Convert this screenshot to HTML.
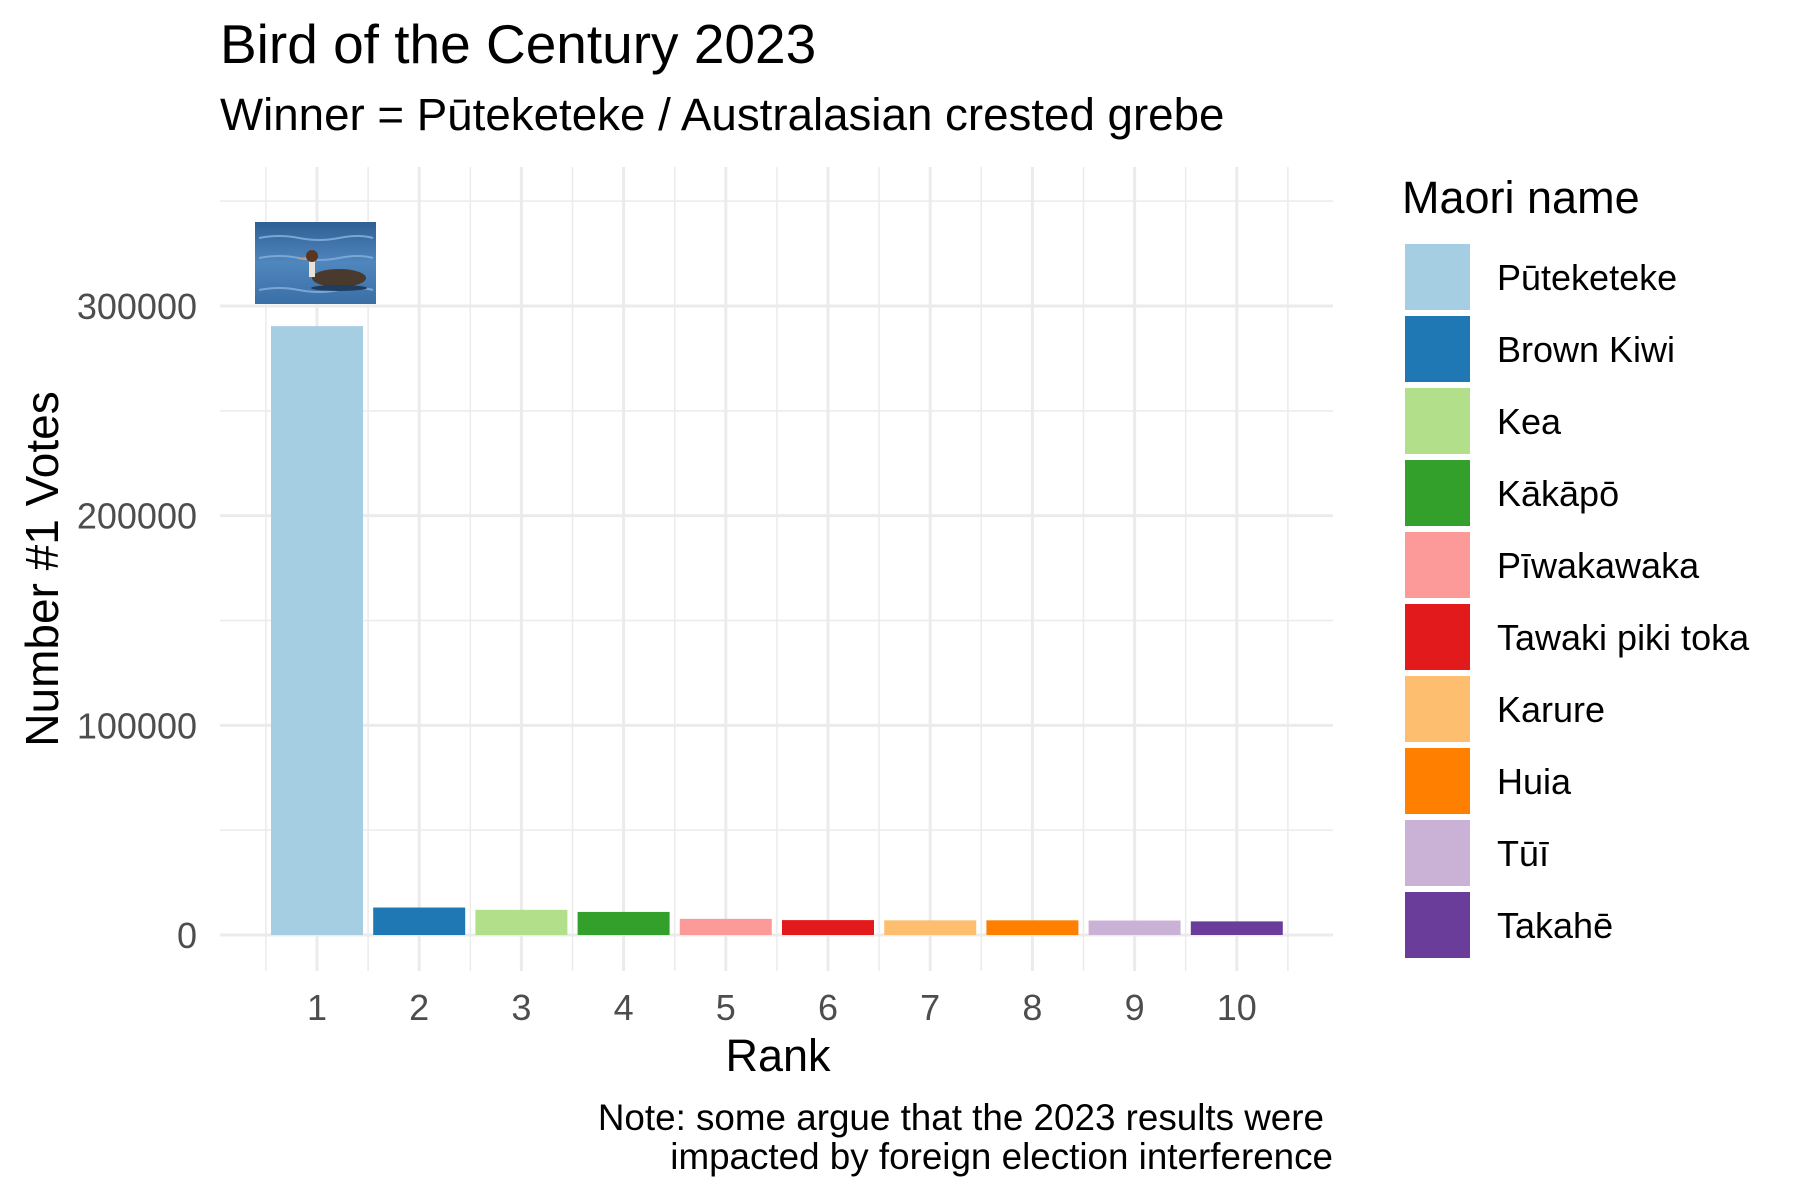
<!DOCTYPE html>
<html><head><meta charset="utf-8"><style>
body{margin:0;background:#fff;}
svg{display:block;font-family:"Liberation Sans",sans-serif;}
</style></head><body>
<svg id="chart" width="1800" height="1200" viewBox="0 0 1800 1200">
<text x="220" y="63" font-size="55" fill="#000">Bird of the Century 2023</text>
<text x="220" y="130" font-size="45.7" fill="#000">Winner = Pūteketeke / Australasian crested grebe</text>
<g id="grid"></g>
<g id="bars"></g>
<g id="axes"></g>
<g>
<defs><linearGradient id="water" x1="0" y1="0" x2="0" y2="1"><stop offset="0" stop-color="#2f5f94"/><stop offset="0.5" stop-color="#4f86bd"/><stop offset="1" stop-color="#3a6fa6"/></linearGradient></defs>
<rect x="255" y="222" width="121" height="82" fill="url(#water)"/>
<path d="M259 238 q20 -4 40 0 t40 0 t34 0 M259 258 q20 -4 40 0 t40 0 t34 0 M259 290 q20 -4 40 0 t40 0 t34 0" stroke="#7aa6d4" stroke-width="2" fill="none"/>
<ellipse cx="339" cy="278" rx="27" ry="9" fill="#4a3a2e"/>
<rect x="309" y="257" width="6" height="20" fill="#e9e2d6"/>
<circle cx="312" cy="256" r="6" fill="#5a3520"/>
<path d="M306 257 l-9 2 l9 1z" fill="#c99a80"/>
<ellipse cx="339" cy="288" rx="28" ry="3" fill="#1f3d5e"/>
</g>
<text transform="translate(58,569) rotate(-90)" text-anchor="middle" font-size="46" fill="#000">Number #1 Votes</text>
<text x="778" y="1071" text-anchor="middle" font-size="45" fill="#000">Rank</text>
<text x="1324" y="1130" text-anchor="end" font-size="36.8" fill="#000">Note: some argue that the 2023 results were</text>
<text x="1333" y="1169" text-anchor="end" font-size="36.8" fill="#000">impacted by foreign election interference</text>
<text x="1402" y="213" font-size="45" fill="#000">Maori name</text>
<g id="legend"></g>
</svg>
<script>
const ranks=[1,2,3,4,5,6,7,8,9,10];
const votes=[290400,13100,12000,11000,7700,7100,7000,7000,6900,6500];
const names=["Pūteketeke","Brown Kiwi","Kea","Kākāpō","Pīwakawaka","Tawaki piki toka","Karure","Huia","Tūī","Takahē"];
const colors=["#a6cee3","#1f78b4","#b2df8a","#33a02c","#fb9a99","#e31a1c","#fdbf6f","#ff7f00","#cab2d6","#6a3d9a"];
const yTicks=[0,100000,200000,300000];
const ns="http://www.w3.org/2000/svg";
const X0=220,X1=1333,PT=167,PB=971;
const y=v=>935-(v/300000)*629;
const x=r=>317+(r-1)*102.2;
const bw=92;
function mk(t,a,p){const e=document.createElementNS(ns,t);for(const k in a)e.setAttribute(k,a[k]);p.appendChild(e);return e;}
const g=document.getElementById('grid'),b=document.getElementById('bars'),ax=document.getElementById('axes'),lg=document.getElementById('legend');
for(let v=50000;v<=350000;v+=100000){const l=mk('line',{x1:X0,x2:X1,y1:y(v),y2:y(v),stroke:'#ebebeb','stroke-width':1.5},g);

}
for(let r=0.5;r<=10.5;r+=1){const l=mk('line',{x1:x(r),x2:x(r),y1:PT,y2:PB,stroke:'#ebebeb','stroke-width':1.5},g);

}
yTicks.forEach(v=>{const l=mk('line',{x1:X0,x2:X1,y1:y(v),y2:y(v),stroke:'#ebebeb','stroke-width':3},g);


const t=mk('text',{x:197,y:y(v)+13,'text-anchor':'end','font-size':36,fill:'#4d4d4d'},ax);t.textContent=v;

});
ranks.forEach((r,i)=>{const l=mk('line',{x1:x(r),x2:x(r),y1:PT,y2:PB,stroke:'#ebebeb','stroke-width':3},g);


const t=mk('text',{x:x(r),y:1020,'text-anchor':'middle','font-size':36,fill:'#4d4d4d'},ax);t.textContent=r;


const rc=mk('rect',{x:x(r)-bw/2,y:y(votes[i]),width:bw,height:y(0)-y(votes[i]),fill:colors[i]},b);


const k=mk('rect',{x:1405,y:244+i*72,width:65,height:66,fill:colors[i]},lg);


const lt=mk('text',{x:1497,y:244+i*72+46,'font-size':36,fill:'#000'},lg);lt.textContent=names[i];

});
</script>
</body></html>
